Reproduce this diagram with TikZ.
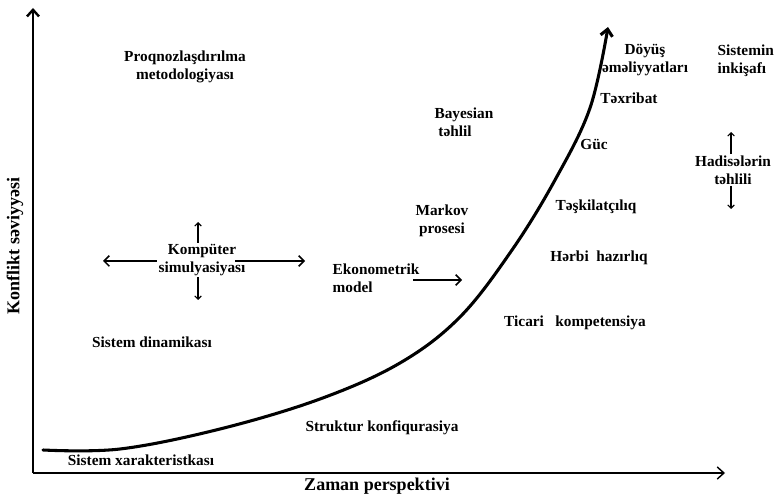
\documentclass[tikz,border=0pt]{standalone}
\usepackage{fontspec}
\setmainfont{Liberation Serif}
\usetikzlibrary{arrows.meta,positioning}
\tikzset{
    term/.style={font=\bfseries\fontsize{11.5}{13.5}\selectfont, align=center, inner sep=1pt},
    axislabel/.style={font=\bfseries\fontsize{13.5}{16}\selectfont, inner sep=1pt},
    pointer/.style={line width=1.1pt, -{Straight Barb[length=4pt,width=8pt]}},
    tinypointer/.style={line width=0.8pt, -{Straight Barb[length=2.5pt,width=5pt]}},
}

\begin{document}
\begin{tikzpicture}[x=0.75pt, y=-0.75pt,
    axis/.style={line width=#1, -{Straight Barb[length=5pt,width=9pt]}},
    growth/.style={line width=2.3pt, line cap=round, -{Straight Barb[length=5pt,width=9pt]}}]
  \useasboundingbox (0,0) rectangle (775,495);

  % OXLAR
  \coordinate (origin) at (33,473);
  \coordinate (xend) at (725,473);
  \coordinate (yend) at (33,8);
  \draw[axis=1.1pt] (origin) -- (xend);
  \draw[axis=1.8pt] (origin) -- (yend);
  \node[axislabel, rotate=90] (ylabel) at (15,246) {Konflikt səviyyəsi};
  \node[axislabel] (xlabel) at (377,486) {Zaman perspektivi};

  % ARTIM ƏYRİSİ
  \draw[growth] plot[smooth, tension=0.6] coordinates {(43,450) (120,449) (220,429) (320,399) (400,363) (460,317) (512,250) (555,180) (590,108) (608,27)};

  % SOL HİSSƏ
  \node[term] (proqnoz) at (185,67) {Proqnozlaşdırılma\\metodologiyası};
  \node[term] (komp) at (202,260) {Kompüter\\simulyasiyası};
  \node[term] (dinamika) at (152,342) {Sistem dinamikası};
  \node[term] (xarakter) at (141,460) {Sistem xarakteristkası};
  \node[term] (struktur) at (382,428) {Struktur konfiqurasiya};
  \node[term, align=left, anchor=west] (ekon) at (331,278) {Ekonometrik\\model};
  \node[term] (markov) at (442,221) {Markov\\prosesi};
  \node[term, align=left, anchor=west] (bayes) at (433,122) {Bayesian\\\ təhlil};

  \coordinate (kompup) at (198,222);
  \coordinate (kompdown) at (198,300);
  \coordinate (kompleft) at (103,261);
  \coordinate (kompright) at (305,261);
  \coordinate (ekonto) at (462,280);
  \draw[tinypointer] (komp.north -| kompup) -- (kompup);
  \draw[tinypointer] (komp.south -| kompdown) -- (kompdown);
  \draw[pointer] (komp.west |- kompleft) -- (kompleft);
  \draw[pointer] ([xshift=-9]komp.east |- kompright) -- (kompright);
  \draw[pointer] ([xshift=-6]ekon.east |- ekonto) -- (ekonto);

  % SAĞ HİSSƏ
  \node[term] (doyus) at (645,60) {Döyüş\\əməliyyatları};
  \node[term] (texribat) at (629,98) {Təxribat};
  \node[term] (guc) at (594,144) {Güc};
  \node[term] (teskilat) at (596,207) {Təşkilatçılıq};
  \node[term] (herbi) at (599,258) {Hərbi\ \ hazırlıq};
  \node[term] (ticari) at (575,323) {Ticari\ \ \ kompetensiya};
  \node[term, align=left, anchor=west] (inkisaf) at (716,61) {Sistemin\\inkişafı};
  \node[term] (hadise) at (733,170) {Hadisələrin\\təhlili};

  \coordinate (hadup) at (731,132);
  \coordinate (haddown) at (731,209);
  \draw[tinypointer] (hadise.north -| hadup) -- (hadup);
  \draw[tinypointer] (hadise.south -| haddown) -- (haddown);
\end{tikzpicture}
\end{document}
